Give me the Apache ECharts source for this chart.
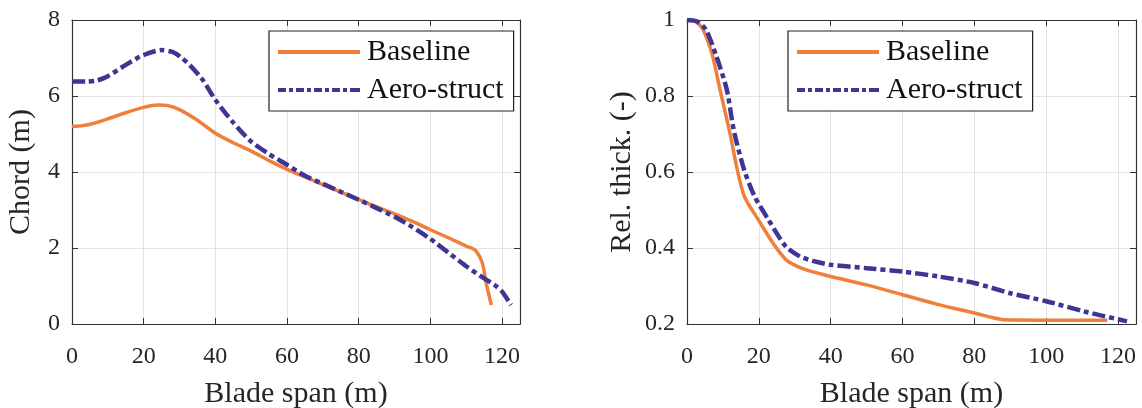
<!DOCTYPE html>
<html>
<head>
<meta charset="utf-8">
<script src="https://cdn.jsdelivr.net/npm/echarts@6/dist/echarts.min.js"></script>
<style>html,body{margin:0;padding:0;background:#fff;}#c{width:1142px;height:408px;}</style>
</head>
<body>
<div id="c"></div>
<script>
// ---- Data ----
const seriesNames = ['Baseline', 'Aero-struct'];
const xTicks = [0, 20, 40, 60, 80, 100, 120];

// Chord (m) vs blade span (m)
const chordBaseSpan = [0, 3, 6, 10, 15, 20, 24, 27, 30, 35, 40, 45, 50, 55, 60, 65, 70, 75, 80, 85, 90, 95, 100, 105, 110, 112.5, 114.5, 115.5, 117];
const chordBase     = [5.2, 5.22, 5.28, 5.4, 5.56, 5.7, 5.76, 5.74, 5.64, 5.36, 5.02, 4.77, 4.55, 4.3, 4.07, 3.87, 3.67, 3.47, 3.27, 3.08, 2.9, 2.7, 2.48, 2.27, 2.05, 1.94, 1.6, 1.1, 0.5];
const chordAeroSpan = [0, 4, 7, 10, 15, 20, 25, 28, 30, 33, 36.5, 40, 45, 50, 55, 60, 65, 70, 75, 80, 85, 90, 95, 100, 105, 110, 115, 118, 120, 122.5];
const chordAero     = [6.38, 6.38, 6.41, 6.52, 6.82, 7.08, 7.21, 7.16, 7.05, 6.8, 6.42, 5.9, 5.3, 4.8, 4.47, 4.19, 3.9, 3.69, 3.48, 3.27, 3.05, 2.82, 2.55, 2.24, 1.88, 1.52, 1.2, 1.02, 0.85, 0.5];

// Relative thickness (-) vs blade span (m)
const thickBaseSpan = [0, 2, 4.3, 7, 9.2, 12, 14, 16, 20, 24, 27.5, 30, 33, 40, 50, 60, 70, 80, 85, 88.5, 100, 110, 117];
const thickBase     = [1.0, 0.998, 0.978, 0.91, 0.816, 0.7, 0.606, 0.535, 0.472, 0.412, 0.37, 0.355, 0.343, 0.325, 0.303, 0.277, 0.251, 0.229, 0.217, 0.211, 0.21, 0.21, 0.21];
const thickAeroSpan = [0, 2.9, 5.3, 8.2, 11.1, 13, 15.9, 18.8, 22.7, 27.5, 31.4, 35, 40, 50, 60, 70, 80, 90, 100, 110.6, 122.5];
const thickAero     = [1.0, 0.996, 0.974, 0.904, 0.816, 0.711, 0.606, 0.536, 0.474, 0.404, 0.378, 0.366, 0.356, 0.347, 0.338, 0.325, 0.308, 0.281, 0.26, 0.233, 0.207];

const zip = (xs, ys) => xs.map((x, i) => [x, ys[i]]);

// ---- Style ----
const FONT = '"Liberation Serif", "Times New Roman", serif';
const TXT = '#262626';
const ORANGE = '#EF7F3A';
const PURPLE = '#3F3593';
const AXC = '#333333';

function xAx(gi, pos, show) {
  return {
    type: 'value', gridIndex: gi, position: pos, min: 0, max: 125, interval: 20,
    axisLine: { show: true, onZero: false, lineStyle: { color: AXC, width: 1.2 } },
    axisTick: { show: true, inside: true, length: 6, lineStyle: { color: AXC } },
    splitLine: { show: show, lineStyle: { color: '#e3e3e3', width: 1 } },
    axisLabel: { show: show, showMaxLabel: false, fontFamily: FONT, fontSize: 24, color: TXT, margin: 21 },
    name: show ? 'Blade span (m)' : '', nameLocation: 'middle', nameGap: 55,
    nameTextStyle: { fontFamily: FONT, fontSize: 30, color: TXT }
  };
}
function yAx(gi, pos, show, min, max, interval, name, gap, fmt) {
  return {
    type: 'value', gridIndex: gi, position: pos, min: min, max: max, interval: interval,
    axisLine: { show: true, onZero: false, lineStyle: { color: AXC, width: 1.2 } },
    axisTick: { show: true, inside: true, length: 6, lineStyle: { color: AXC } },
    splitLine: { show: show, lineStyle: { color: '#e3e3e3', width: 1 } },
    axisLabel: { show: show, fontFamily: FONT, fontSize: 24, color: TXT, margin: 12, formatter: fmt },
    name: show ? name : '', nameLocation: 'middle', nameGap: gap,
    nameTextStyle: { fontFamily: FONT, fontSize: 30, color: TXT }
  };
}
const thickFmt = v => (Math.abs(v - 1) < 1e-9 ? '1' : String(Math.round(v * 10) / 10));

function lineSeries(name, data, xi, yi) {
  const base = name === seriesNames[0];
  return {
    name: name, type: 'line', xAxisIndex: xi, yAxisIndex: yi, data: data,
    symbol: 'none', smooth: 0.25, animation: false,
    lineStyle: base
      ? { color: ORANGE, width: 3.5 }
      : { color: PURPLE, width: 4.5, type: [13, 4, 5, 4] },
    itemStyle: { color: base ? ORANGE : PURPLE }
  };
}

const ICON_SOLID = 'path://M0,0h82v4h-82z';
const ICON_DASHDOT = 'path://M0,0h8v4h-8zM11,0h4v4h-4zM18,0h8v4h-8zM29,0h4v4h-4zM36,0h8v4h-8zM47,0h4v4h-4zM54,0h8v4h-8zM65,0h4v4h-4zM72,0h10v4h-10z';

function legend(left) {
  return {
    data: [
      { name: seriesNames[0], icon: ICON_SOLID, itemStyle: { color: ORANGE } },
      { name: seriesNames[1], icon: ICON_DASHDOT, itemStyle: { color: PURPLE } }
    ],
    orient: 'vertical', left: left, top: 31,
    itemWidth: 82, itemHeight: 4, itemGap: 8,
    borderColor: '#222', borderWidth: 1.2, padding: [6, 10, 6, 9],
    backgroundColor: '#fff',
    textStyle: { fontFamily: FONT, fontSize: 30, color: '#111', padding: [0, 0, 0, 2] },
    selectedMode: false
  };
}

const chart = echarts.init(document.getElementById('c'), null, { renderer: 'canvas' });
chart.setOption({
  animation: false,
  backgroundColor: '#fff',
  grid: [
    { left: 72, top: 20, width: 448, height: 304, containLabel: false, outerBoundsMode: 'none' },
    { left: 687, top: 20, width: 449, height: 304, containLabel: false, outerBoundsMode: 'none' }
  ],
  xAxis: [xAx(0, 'bottom', true), xAx(0, 'top', false), xAx(1, 'bottom', true), xAx(1, 'top', false)],
  yAxis: [
    yAx(0, 'left', true, 0, 8, 2, 'Chord (m)', 36), yAx(0, 'right', false, 0, 8, 2, '', 0),
    yAx(1, 'left', true, 0.2, 1, 0.2, 'Rel. thick. (-)', 50, thickFmt), yAx(1, 'right', false, 0.2, 1, 0.2, '', 0)
  ],
  legend: [legend(269), legend(788)],
  series: [
    lineSeries('Baseline', zip(chordBaseSpan, chordBase), 0, 0),
    lineSeries('Aero-struct', zip(chordAeroSpan, chordAero), 0, 0),
    lineSeries('Baseline', zip(thickBaseSpan, thickBase), 2, 2),
    lineSeries('Aero-struct', zip(thickAeroSpan, thickAero), 2, 2)
  ]
});
</script>
</body>
</html>
